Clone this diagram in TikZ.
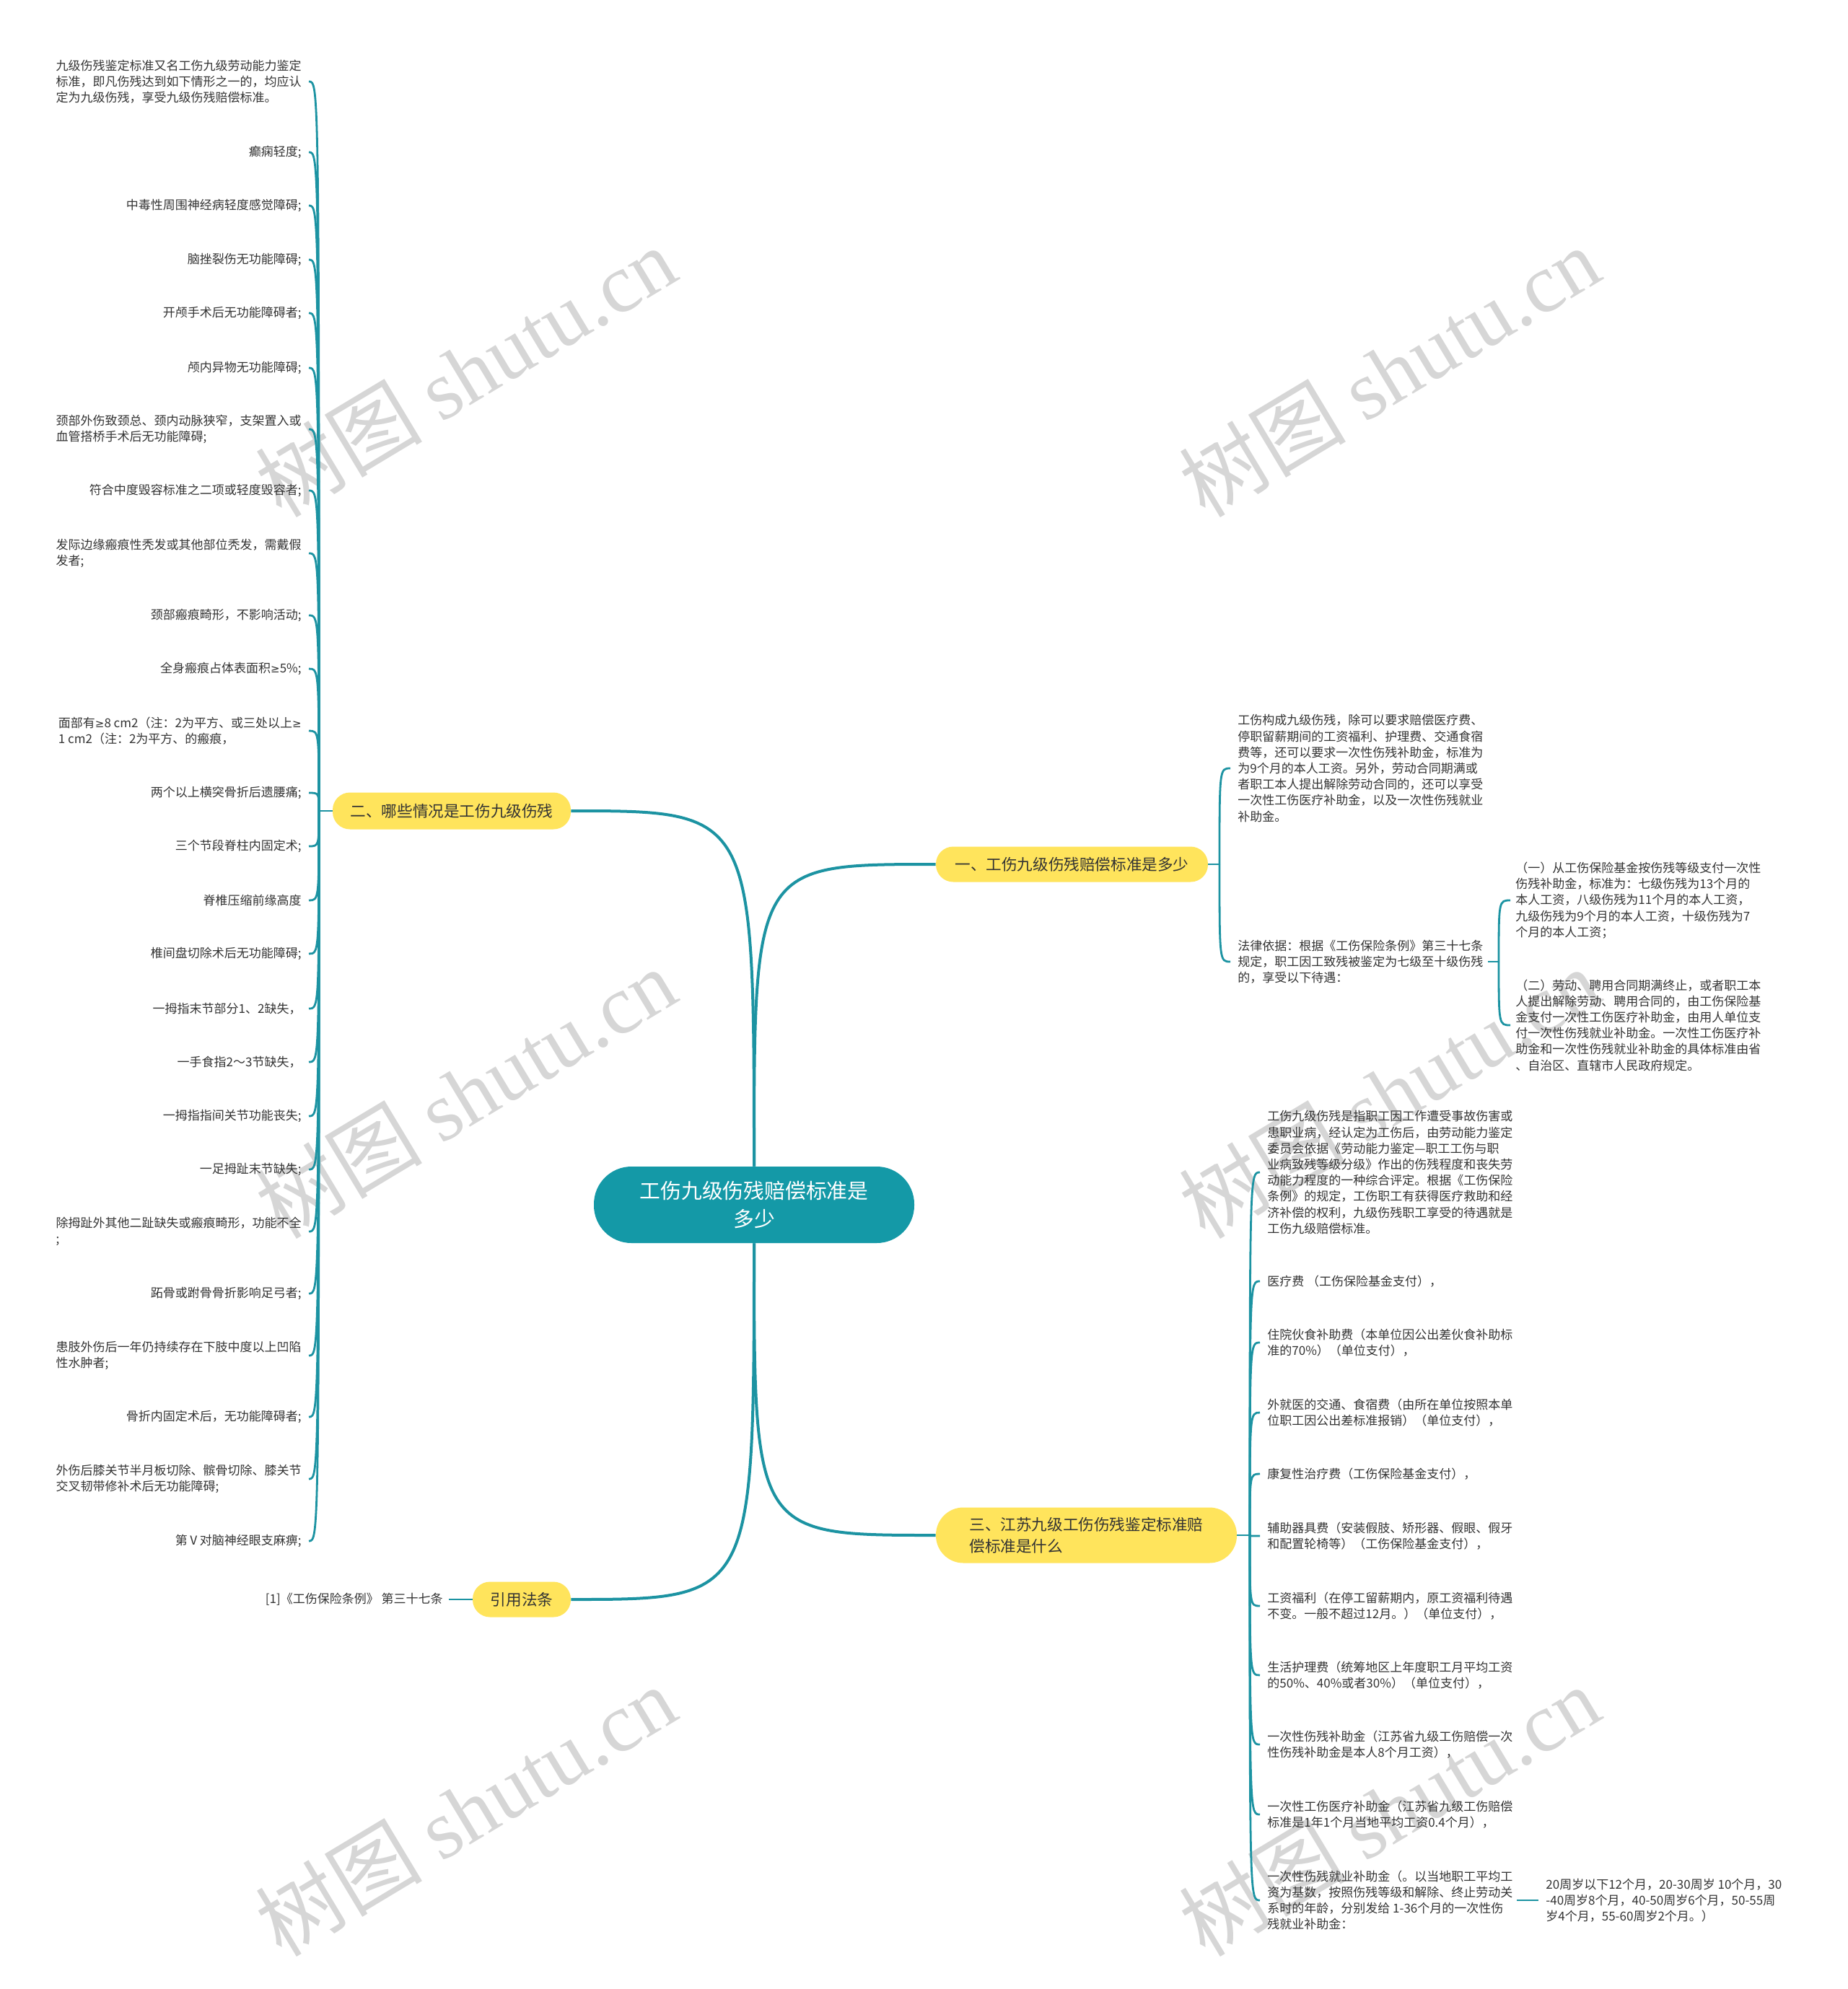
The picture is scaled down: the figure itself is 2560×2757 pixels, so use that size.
\documentclass[tikz,border=0pt]{standalone}
\usepackage{fontspec}
\setmainfont{Noto Sans CJK SC}
\newfontfamily\wmcjk{Noto Sans CJK SC}
\newfontfamily\wmlat{Liberation Serif}
\newfontfamily\symf{DejaVu Sans}
\newcommand\gesym{{\symf\fontsize{7.5pt}{11pt}\selectfont ≥}}
\definecolor{tealc}{HTML}{1499A7}
\definecolor{linec}{HTML}{1C93A2}
\definecolor{yel}{HTML}{FFE45C}
\definecolor{txt}{HTML}{333333}
\definecolor{wmc}{HTML}{D6D6D6}
\begin{document}
\begin{tikzpicture}[x=0.5pt,y=-0.5pt,
  leaf/.style={inner sep=0pt, text=txt, font=\fontsize{8.5pt}{11.1pt}\selectfont},
  lleaf/.style={leaf, anchor=east},
  rleaf/.style={leaf, anchor=west, align=left},
  branch/.style={fill=yel, rounded corners=12pt, inner sep=0pt, text=txt, font=\fontsize{10.8pt}{15pt}\selectfont},
  rootnode/.style={fill=tealc, rounded corners=26pt, inner sep=0pt, text=white, align=center,
     minimum width=222pt, minimum height=53pt, font=\fontsize{14.4pt}{19.5pt}\selectfont},
  leafline/.style={draw=linec, line width=1.4pt},
  mainline/.style={draw=linec, line width=2pt},
  wm/.style={text=wmc, inner sep=0pt, rotate=31}]
\useasboundingbox (0,0) rectangle (2560,2757);

% watermarks
\node[wm] (wm1) at (645,515) {\fontsize{58pt}{60pt}\wmcjk 树图 \wmlat shutu.cn};
\node[wm] (wm2) at (1925,515) {\fontsize{58pt}{60pt}\wmcjk 树图 \wmlat shutu.cn};
\node[wm] (wm3) at (645,1515) {\fontsize{58pt}{60pt}\wmcjk 树图 \wmlat shutu.cn};
\node[wm] (wm4) at (1925,1515) {\fontsize{58pt}{60pt}\wmcjk 树图 \wmlat shutu.cn};
\node[wm] (wm5) at (645,2510) {\fontsize{58pt}{60pt}\wmcjk 树图 \wmlat shutu.cn};
\node[wm] (wm6) at (1925,2510) {\fontsize{58pt}{60pt}\wmcjk 树图 \wmlat shutu.cn};

% root and branches
\node[rootnode] (root) at (1045,1670) {工伤九级伤残赔偿标准是\\多少};
\node[branch, minimum width=188.5pt, minimum height=24.5pt] (b1) at (1485.5,1198) {一、工伤九级伤残赔偿标准是多少};
\node[branch, minimum width=165pt, minimum height=25.5pt] (b2) at (626,1124) {二、哪些情况是工伤九级伤残};
\node[branch, minimum width=208.5pt, minimum height=38.5pt, rounded corners=19pt, align=left] (b3) at (1505.5,2128) {三、江苏九级工伤伤残鉴定标准赔\\偿标准是什么};
\node[branch, minimum width=68pt, minimum height=24.5pt] (b4) at (723,2217) {引用法条};

\draw[mainline] (root.north) .. controls (root.north |- b1.west) and (root.north |- b1.west) .. (b1.west);
\draw[mainline] (root.north) .. controls (root.north |- b2.east) and (root.north |- b2.east) .. (b2.east);
\draw[mainline] (root.south) .. controls (root.south |- b3.west) and (root.south |- b3.west) .. (b3.west);
\draw[mainline] (root.south) .. controls (root.south |- b4.east) and (root.south |- b4.east) .. (b4.east);

% left column (branch 2)
\node[lleaf, align=left] (l1) at (418,113) {九级伤残鉴定标准又名工伤九级劳动能力鉴定\\标准，即凡伤残达到如下情形之一的，均应认\\定为九级伤残，享受九级伤残赔偿标准。};
\node[lleaf] (l2) at (418,211) {癫痫轻度;};
\node[lleaf] (l3) at (418,285) {中毒性周围神经病轻度感觉障碍;};
\node[lleaf] (l4) at (418,360) {脑挫裂伤无功能障碍;};
\node[lleaf] (l5) at (418,434) {开颅手术后无功能障碍者;};
\node[lleaf] (l6) at (418,510) {颅内异物无功能障碍;};
\node[lleaf, align=left] (l7) at (418,595) {颈部外伤致颈总、颈内动脉狭窄，支架置入或\\血管搭桥手术后无功能障碍;};
\node[lleaf] (l8) at (418,680) {符合中度毁容标准之二项或轻度毁容者;};
\node[lleaf, align=left] (l9) at (418,767) {发际边缘瘢痕性秃发或其他部位秃发，需戴假\\发者;};
\node[lleaf] (l10) at (418,853) {颈部瘢痕畸形，不影响活动;};
\node[lleaf] (l11) at (418,927) {全身瘢痕占体表面积\gesym 5\%;};
\node[lleaf, align=left] (l12) at (418,1013) {面部有\gesym 8 cm2（注：2为平方、或三处以上\gesym\\1 cm2（注：2为平方、的瘢痕，};
\node[lleaf] (l13) at (418,1099) {两个以上横突骨折后遗腰痛;};
\node[lleaf] (l14) at (418,1173) {三个节段脊柱内固定术;};
\node[lleaf] (l15) at (418,1248) {脊椎压缩前缘高度 };
\node[lleaf] (l16) at (418,1322) {椎间盘切除术后无功能障碍;};
\node[lleaf] (l17) at (418,1398) {一拇指末节部分1、2缺失，};
\node[lleaf] (l18) at (418,1472) {一手食指2～3节缺失，};
\node[lleaf] (l19) at (418,1547) {一拇指指间关节功能丧失;};
\node[lleaf] (l20) at (418,1621) {一足拇趾末节缺失;};
\node[lleaf, align=left] (l21) at (418,1707) {除拇趾外其他二趾缺失或瘢痕畸形，功能不全\\;};
\node[lleaf] (l22) at (418,1793) {跖骨或跗骨骨折影响足弓者;};
\node[lleaf, align=left] (l23) at (418,1879) {患肢外伤后一年仍持续存在下肢中度以上凹陷\\性水肿者;};
\node[lleaf] (l24) at (418,1964) {骨折内固定术后，无功能障碍者;};
\node[lleaf, align=left] (l25) at (418,2050) {外伤后膝关节半月板切除、髌骨切除、膝关节\\交叉韧带修补术后无功能障碍;};
\node[lleaf] (l26) at (418,2136) {第Ⅴ对脑神经眼支麻痹;};

\coordinate (h2) at (442,1124);
\draw[leafline] (b2.west) -- (h2);
\foreach \i in {1,...,26} {
  \coordinate (e\i) at (428,0 |- l\i.east);
  \draw[leafline] (h2) .. controls (h2 |- e\i) and (h2 |- e\i) .. (e\i);
}

% branch 1
\node[rleaf] (r1) at (1715,1065) {工伤构成九级伤残，除可以要求赔偿医疗费、\\停职留薪期间的工资福利、护理费、交通食宿\\费等，还可以要求一次性伤残补助金，标准为\\为9个月的本人工资。另外，劳动合同期满或\\者职工本人提出解除劳动合同的，还可以享受\\一次性工伤医疗补助金，以及一次性伤残就业\\补助金。};
\node[rleaf] (r2) at (1715,1333) {法律依据：根据《工伤保险条例》第三十七条\\规定，职工因工致残被鉴定为七级至十级伤残\\的，享受以下待遇：};
\coordinate (h1) at (1690,1198);
\draw[leafline] (b1.east) -- (h1);
\foreach \n in {r1,r2} {
  \coordinate (f\n) at ([xshift=-5pt]\n.west);
  \draw[leafline] (h1) .. controls (h1 |- f\n) and (h1 |- f\n) .. (f\n);
}
\node[rleaf] (s1) at (2100,1248) {（一）从工伤保险基金按伤残等级支付一次性\\伤残补助金，标准为：七级伤残为13个月的\\本人工资，八级伤残为11个月的本人工资，\\九级伤残为9个月的本人工资，十级伤残为7\\个月的本人工资；};
\node[rleaf] (s2) at (2100,1421) {（二）劳动、聘用合同期满终止，或者职工本\\人提出解除劳动、聘用合同的，由工伤保险基\\金支付一次性工伤医疗补助金，由用人单位支\\付一次性伤残就业补助金。一次性工伤医疗补\\助金和一次性伤残就业补助金的具体标准由省\\、自治区、直辖市人民政府规定。};
\coordinate (h1b) at (2077,1333);
\draw[leafline] ([xshift=3pt]r2.east |- h1b) -- (h1b);
\foreach \n in {s1,s2} {
  \coordinate (f\n) at ([xshift=-3.5pt]\n.west);
  \draw[leafline] (h1b) .. controls (h1b |- f\n) and (h1b |- f\n) .. (f\n);
}

% branch 3
\node[rleaf] (t1) at (1756,1625) {工伤九级伤残是指职工因工作遭受事故伤害或\\患职业病，经认定为工伤后，由劳动能力鉴定\\委员会依据《劳动能力鉴定—职工工伤与职\\业病致残等级分级》作出的伤残程度和丧失劳\\动能力程度的一种综合评定。根据《工伤保险\\条例》的规定，工伤职工有获得医疗救助和经\\济补偿的权利，九级伤残职工享受的待遇就是\\工伤九级赔偿标准。};
\node[rleaf] (t2) at (1756,1776) {医疗费 （工伤保险基金支付），};
\node[rleaf] (t3) at (1756,1861) {住院伙食补助费（本单位因公出差伙食补助标\\准的70\%）（单位支付），};
\node[rleaf] (t4) at (1756,1958) {外就医的交通、食宿费（由所在单位按照本单\\位职工因公出差标准报销）（单位支付），};
\node[rleaf] (t5) at (1756,2043) {康复性治疗费（工伤保险基金支付），};
\node[rleaf] (t6) at (1756,2129) {辅助器具费（安装假肢、矫形器、假眼、假牙\\和配置轮椅等）（工伤保险基金支付），};
\node[rleaf] (t7) at (1756,2226) {工资福利（在停工留薪期内，原工资福利待遇\\不变。一般不超过12月。）（单位支付），};
\node[rleaf] (t8) at (1756,2322) {生活护理费（统筹地区上年度职工月平均工资\\的50\%、40\%或者30\%）（单位支付），};
\node[rleaf] (t9) at (1756,2418) {一次性伤残补助金（江苏省九级工伤赔偿一次\\性伤残补助金是本人8个月工资），};
\node[rleaf] (t10) at (1756,2515) {一次性工伤医疗补助金（江苏省九级工伤赔偿\\标准是1年1个月当地平均工资0.4个月），};
\node[rleaf] (t11) at (1756,2634) {一次性伤残就业补助金（。以当地职工平均工\\资为基数，按照伤残等级和解除、终止劳动关\\系时的年龄，分别发给 1-36个月的一次性伤\\残就业补助金：};
\coordinate (h3) at (1732,2128);
\draw[leafline] (b3.east) -- (h3);
\foreach \i in {1,...,11} {
  \coordinate (g\i) at ([xshift=-5pt]t\i.west);
  \draw[leafline] (h3) .. controls (h3 |- g\i) and (h3 |- g\i) .. (g\i);
}
\node[rleaf] (t12) at (2142,2634) {20周岁以下12个月，20-30周岁 10个月，30\\-40周岁8个月，40-50周岁6个月，50-55周\\岁4个月，55-60周岁2个月。）};
\draw[leafline] (2102,0 |- t11.east) -- ([xshift=-5pt]t12.west);

% branch 4
\node[leaf, anchor=east] (c1) at (614,2217) {[1]《工伤保险条例》 第三十七条};
\draw[leafline] ([xshift=4pt]c1.east) -- (b4.west);
\end{tikzpicture}
\end{document}
